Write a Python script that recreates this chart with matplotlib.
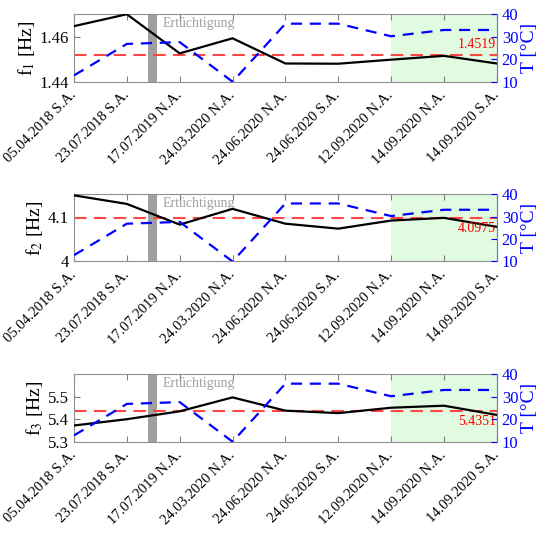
"""Eigenfrequencies f1..f3 vs. temperature over measurement campaigns."""

import matplotlib

matplotlib.use("Agg")
import matplotlib.pyplot as plt
import matplotlib.transforms as mtransforms
import numpy as np

plt.rcParams["font.family"] = ["Liberation Serif", "DejaVu Serif"]
plt.rcParams["mathtext.fontset"] = "stix"

dates = [
    "05.04.2018 S.A.", "23.07.2018 S.A.", "17.07.2019 N.A.", "24.03.2020 N.A.",
    "24.06.2020 N.A.", "24.06.2020 S.A.", "12.09.2020 N.A.", "14.09.2020 N.A.",
    "14.09.2020 S.A.",
]
temp = [12.8, 26.8, 27.6, 10.0, 35.8, 35.8, 30.2, 33.0, 33.0]
f1 = [1.4647, 1.4700, 1.4526, 1.4593, 1.4481, 1.4480, 1.4498, 1.4515, 1.4481]
f2 = [4.147, 4.128, 4.082, 4.117, 4.084, 4.073, 4.091, 4.097, 4.077]
f3 = [5.372, 5.400, 5.435, 5.497, 5.438, 5.427, 5.451, 5.460, 5.419]
means = [1.4519, 4.0975, 5.4351]
ylims = [(1.44, 1.47), (4.0, 4.15), (5.3, 5.6)]
yticks = [[1.44, 1.46], [4.0, 4.1], [5.3, 5.4, 5.5]]
ytick_labels = [["1.44", "1.46"], ["4", "4.1"], ["5.3", "5.4", "5.5"]]

fig = plt.figure(figsize=(5.38, 5.33), dpi=100)
bottoms = [0.8467, 0.5094, 0.1713]
x = np.arange(len(dates))
gray = "#a0a0a0"
blue = "#0000ff"
shift = mtransforms.ScaledTranslation(10 / 100, 0, fig.dpi_scale_trans)
for i, f in enumerate([f1, f2, f3]):
    ax = fig.add_axes([0.1375, bottoms[i], 0.786, 0.1266])
    ax.axvspan(6, 8, color="#e1fbe1", zorder=0, lw=0)
    ax.axvspan(1.4, 1.58, color=gray, zorder=1, lw=0)
    ax.text(1.67, ylims[i][1] - 0.04 * (ylims[i][1] - ylims[i][0]), "Ertüchtigung",
            color="#a0a0a0", fontsize=10, va="top", ha="left")
    ax.plot(x, f, color="k", lw=1.6, zorder=3)
    ax.axhline(means[i], color="#ff4545", lw=1.5, ls=(0, (6, 3.5)), zorder=2)
    if i == 0:
        ax.annotate(f"{means[i]:.4f}", (7.98, means[i]), xytext=(0, 3),
                    textcoords="offset points", color="red", fontsize=10,
                    ha="right", va="bottom")
    else:
        ax.annotate(f"{means[i]:.4f}", (7.98, means[i]), xytext=(0, -3),
                    textcoords="offset points", color="red", fontsize=10,
                    ha="right", va="top")
    ax.set_xlim(0, 8)
    ax.set_ylim(*ylims[i])
    ax.set_yticks(yticks[i])
    ax.set_yticklabels(ytick_labels[i], fontsize=12)
    ax.set_xticks(x)
    ax.set_xticklabels(dates, rotation=45, ha="right", va="center",
                       rotation_mode="anchor", fontsize=10.5)
    for lab in ax.get_xticklabels():
        lab.set_transform(lab.get_transform() + shift)
    ax.tick_params(axis="x", direction="in", top=True, length=4, color="#808080", pad=8)
    ax.tick_params(axis="y", direction="in", length=4, color="#808080")
    for s in ["left", "top", "bottom", "right"]:
        ax.spines[s].set_color("#909090")
        ax.spines[s].set_linewidth(0.8)
    ax.set_ylabel(rf"f$_{i + 1}$ [Hz]", fontsize=14, labelpad=2)

    ax2 = ax.twinx()
    ax2.plot(x, temp, color=blue, lw=1.6, ls=(0, (5, 3.5)), zorder=2)
    ax2.set_ylim(10, 40)
    ax2.set_yticks([10, 20, 30, 40])
    ax2.tick_params(axis="y", colors=blue, direction="in", length=4, labelsize=12)
    ax2.spines["right"].set_color("#5a7dff")
    ax2.spines["right"].set_linewidth(0.8)
    for s in ["left", "top", "bottom"]:
        ax2.spines[s].set_visible(False)
    ax2.set_ylabel("T [°C]", color=blue, fontsize=14, labelpad=2)

fig.savefig("out.png", dpi=100)
